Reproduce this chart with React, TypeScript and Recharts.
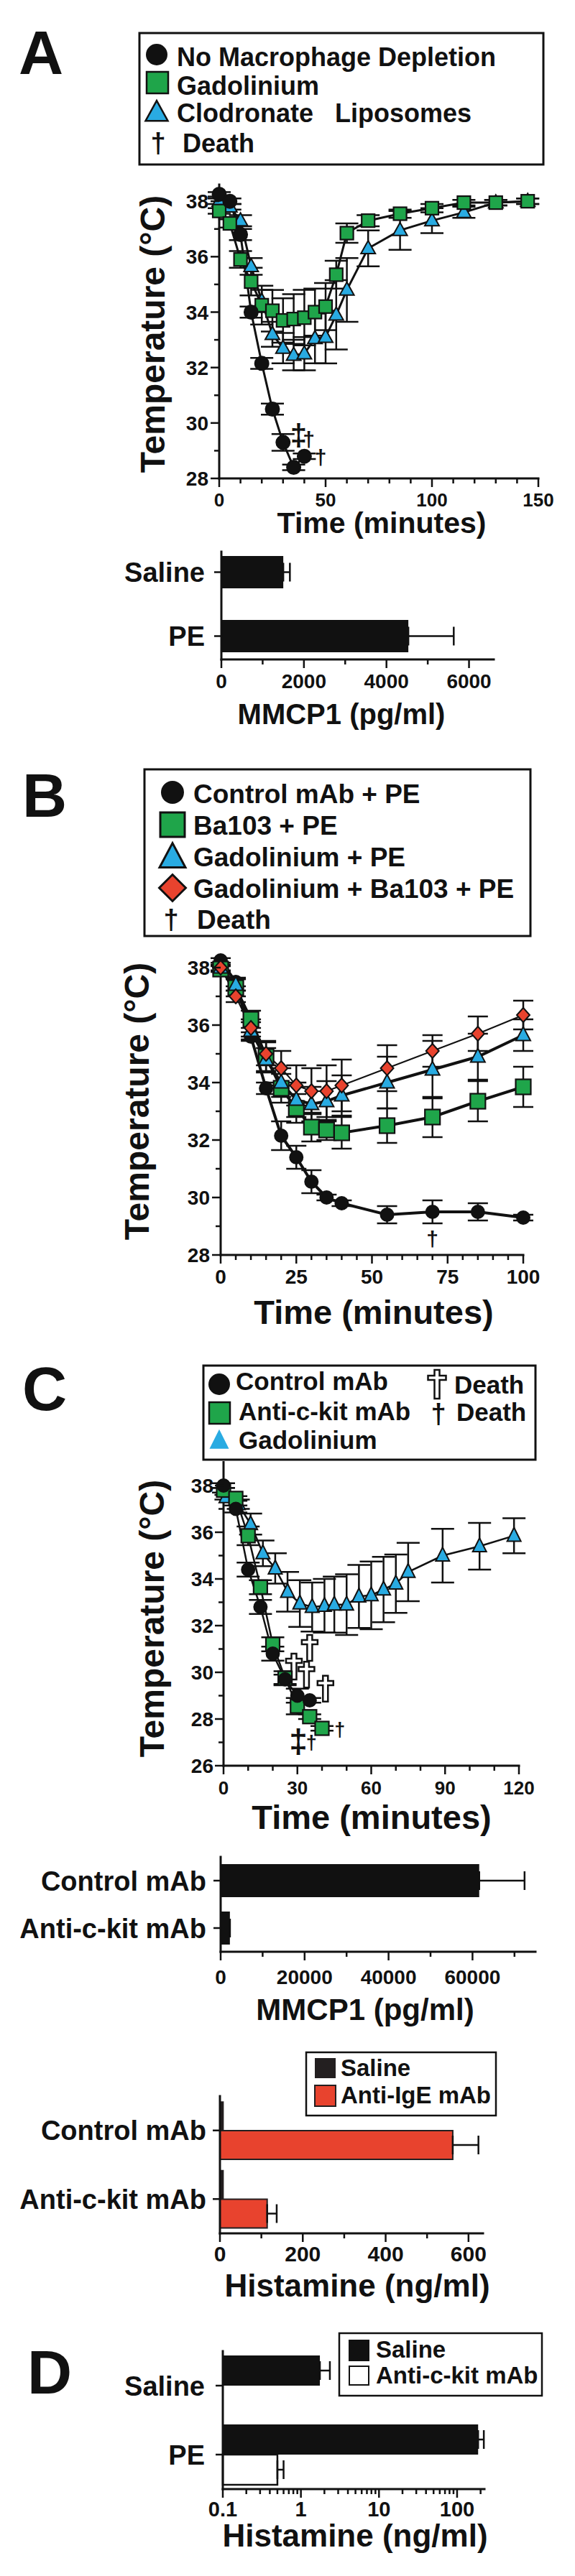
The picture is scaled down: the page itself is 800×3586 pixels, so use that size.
import React from 'react';
import { ComposedChart, BarChart, Bar, Line, Scatter, XAxis, YAxis, ErrorBar, Label } from 'recharts';

const FONT = "'Liberation Sans', Arial, Helvetica, sans-serif";
const INK = '#111';
const GREEN = '#1fa54a';
const CYAN = '#29abe2';
const RED = '#e8432e';

// ---------- Panel A: temperature, macrophage depletion ----------
const aNoDepT = [0, 5, 10, 15, 20, 25, 30, 35, 40];
const aNoDepV = [38.25, 38.0, 36.8, 34.0, 32.15, 30.5, 29.3, 28.4, 28.8];
const aNoDepE = [0.08, 0.1, 0.2, 0.2, 0.2, 0.2, 0.3, 0.1, 0.1];
const aGadT = [0, 5, 10, 15, 20, 25, 30, 35, 40, 45, 50, 55, 60, 70, 85, 100, 115, 130, 145];
const aGadV = [37.65, 37.2, 35.9, 35.1, 34.25, 34.05, 33.7, 33.75, 33.8, 34.0, 34.2, 35.35, 36.85, 37.3, 37.55, 37.75, 37.95, 37.95, 38.0];
const aGadE = [0.1, 0.15, 0.3, 0.5, 0.7, 0.75, 0.8, 0.9, 1.0, 0.85, 0.85, 0.5, 0.35, 0.2, 0.15, 0.15, 0.1, 0.1, 0.1];
const aClodT = [0, 5, 10, 15, 20, 25, 30, 35, 40, 45, 50, 55, 60, 70, 85, 100, 115, 130, 145];
const aClodV = [38.0, 37.8, 37.3, 35.65, 34.4, 33.2, 32.7, 32.45, 32.5, 33.05, 33.1, 33.9, 34.8, 36.3, 36.95, 37.3, 37.6, 37.95, 38.0];
const aClodE = [0.1, 0.1, 0.2, 0.3, 0.4, 0.45, 0.55, 0.55, 0.6, 0.9, 0.95, 1.25, 1.15, 0.65, 0.7, 0.45, 0.2, 0.1, 0.1];
// deaths: '‡' = two animals at the same point
const aDeathT = [37.3, 42.1, 47.7];
const aDeathV = [29.5, 29.35, 28.7];
const aDeathSym = ['‡', '†', '†'];
const aXTicks = [0, 10, 20, 30, 40, 50, 60, 70, 80, 90, 100, 110, 120, 130, 140, 150];
const aXMajor = [0, 50, 100, 150];

// Panel A: MMCP1
const aMmcpNames = ['Saline', 'PE'];
const aMmcpVals = [1500, 4530];
const aMmcpErr = [160, 1100];
const aMmcpTicks = [0, 1000, 2000, 3000, 4000, 5000, 6000];
const aMmcpMajor = [0, 2000, 4000, 6000];

// ---------- Panel B ----------
const bT = [0, 5, 10, 15, 20, 25, 30, 35, 40, 55, 70, 85, 100];
const bCtrlV = [38.25, 37.5, 35.6, 33.8, 32.15, 31.4, 30.55, 30.0, 29.8, 29.4, 29.5, 29.5, 29.3];
const bCtrlE = [0.08, 0.15, 0.15, 0.2, 0.5, 0.4, 0.4, 0.1, 0.1, 0.3, 0.4, 0.3, 0.1];
const bBaV = [37.95, 37.3, 36.2, 34.9, 33.8, 33.1, 32.45, 32.35, 32.25, 32.5, 32.8, 33.35, 33.85];
const bBaE = [0.1, 0.3, 0.3, 0.55, 0.5, 0.5, 0.5, 0.35, 0.55, 0.6, 0.7, 0.7, 0.7];
const bGadV = [38.0, 37.4, 35.8, 34.8, 34.0, 33.4, 33.25, 33.35, 33.55, 34.0, 34.45, 34.9, 35.65];
const bGadE = [0.1, 0.2, 0.3, 0.4, 0.5, 0.6, 0.6, 0.7, 0.7, 0.9, 1.0, 0.8, 0.55];
const bGadBaV = [38.0, 37.0, 35.9, 35.0, 34.5, 33.9, 33.7, 33.7, 33.9, 34.5, 35.1, 35.7, 36.35];
const bGadBaE = [0.1, 0.2, 0.3, 0.4, 0.6, 0.7, 0.8, 0.9, 0.9, 0.8, 0.55, 0.6, 0.5];
const bDeathT = [70];
const bDeathV = [28.5];
const bDeathSym = ['†'];
const bXTicks = [0, 5, 10, 15, 20, 25, 30, 35, 40, 45, 50, 55, 60, 65, 70, 75, 80, 85, 90, 95, 100];
const bXMajor = [0, 25, 50, 75, 100];

// ---------- Panel C ----------
const cCtrlT = [0, 5, 10, 15, 20, 25, 30, 35];
const cCtrlV = [38.0, 37.0, 34.4, 32.8, 30.8, 29.7, 29.0, 28.8];
const cCtrlE = [0.1, 0.15, 0.3, 0.3, 0.3, 0.2, 0.3, 0.1];
const cKitT = [0, 5, 10, 15, 20, 25, 30, 35, 40];
const cKitV = [37.8, 37.45, 35.85, 33.65, 31.2, 29.75, 28.55, 28.1, 27.6];
const cKitE = [0.1, 0.1, 0.4, 0.3, 0.3, 0.3, 0.35, 0.1, 0.1];
const cGadT = [1, 6, 11, 16, 21, 26, 31, 36, 41, 45, 50, 55, 60, 65, 70, 75, 89, 104, 118];
const cGadV = [37.5, 37.2, 36.35, 35.1, 34.45, 33.45, 32.95, 32.8, 32.85, 32.9, 32.9, 33.25, 33.3, 33.55, 33.8, 34.3, 35.0, 35.4, 35.85];
const cGadE = [0.1, 0.2, 0.45, 0.55, 0.65, 0.85, 1.0, 1.05, 1.15, 1.2, 1.3, 1.35, 1.45, 1.4, 1.25, 1.25, 1.15, 1.0, 0.75];
const cDeathT = [30.4, 35.7, 47.2];
const cDeathV = [26.95, 26.95, 27.5];
const cDeathSym = ['‡', '†', '†'];
const cOpenDeathT = [28.6, 35.0, 33.7, 41.4];
const cOpenDeathV = [30.25, 31.05, 29.9, 29.3];
const cXTicks = [0, 10, 20, 30, 40, 50, 60, 70, 80, 90, 100, 110, 120];
const cXMajor = [0, 30, 60, 90, 120];

// Panel C: MMCP1
const cMmcpNames = ['Control mAb', 'Anti-c-kit mAb'];
const cMmcpVals = [61600, 2200];
const cMmcpErr = [10800, 0];
const cMmcpTicks = [0, 10000, 20000, 30000, 40000, 50000, 60000, 70000];
const cMmcpMajor = [0, 20000, 40000, 60000];

// Panel C: histamine
const cHistNames = ['Control mAb', 'Anti-c-kit mAb'];
const cHistSaline = [8, 8];
const cHistIgE = [562, 114];
const cHistIgEErr = [62, 23];
const cHistTicks = [0, 100, 200, 300, 400, 500, 600];
const cHistMajor = [0, 200, 400, 600];

// ---------- Panel D ----------
const dNames = ['Saline', 'PE'];
const dSaline = [1.75, 186];
const dSalineErr = [0.6, 34];
const dKit = [0.1, 0.5];
const dKitErr = [0.04, 0.1];
const dTicks = [0.1, 0.2, 0.3, 0.4, 0.5, 0.6, 0.7, 0.8, 0.9, 1, 2, 3, 4, 5, 6, 7, 8, 9, 10, 20, 30, 40, 50, 60, 70, 80, 90, 100, 200];
const dMajor = [0.1, 1, 10, 100];

const tempTicks = [26, 27, 28, 29, 30, 31, 32, 33, 34, 35, 36, 37, 38];
const tempMajor = [26, 28, 30, 32, 34, 36, 38];

const pts = (t: number[], v: number[], e: number[]) => t.map((x, i) => ({ t: x, T: v[i], e: e[i] }));
const marks = (t: number[], v: number[], s: string[] = []) => t.map((x, i) => ({ t: x, T: v[i], s: s[i] }));

const AX = { stroke: INK, strokeWidth: 3, strokeLinecap: 'square' as const };
const isMajor = (majors: number[], v: number) => majors.some((m) => Math.abs(m - v) < 1e-9);

const xTick = (majors: number[], fs: number, base: number) => (p: any) => {
  const v = p.payload.value;
  const major = isMajor(majors, v);
  return (
    <g>
      <line x1={p.x} y1={p.y} x2={p.x} y2={p.y + (major ? 12 : 7)} stroke={INK} strokeWidth={2.5} />
      {major && (
        <text x={p.x} y={p.y + base} textAnchor="middle" fontSize={fs} fontWeight="bold" fontFamily={FONT} fill={INK}>
          {String(v)}
        </text>
      )}
    </g>
  );
};

const yTick = (majors: number[], fs: number, gap: number) => (p: any) => {
  const v = p.payload.value;
  const major = isMajor(majors, v);
  return (
    <g>
      <line x1={p.x} y1={p.y} x2={p.x - (major ? 12 : 7)} y2={p.y} stroke={INK} strokeWidth={2.5} />
      {major && (
        <text x={p.x - gap} y={p.y + fs * 0.36} textAnchor="end" fontSize={fs} fontWeight="bold" fontFamily={FONT} fill={INK}>
          {String(v)}
        </text>
      )}
    </g>
  );
};

const catTick = (fs: number, gap: number) => (p: any) => (
  <g>
    <line x1={p.x} y1={p.y} x2={p.x - 10} y2={p.y} stroke={INK} strokeWidth={2.5} />
    <text x={p.x - gap} y={p.y + fs * 0.36} textAnchor="end" fontSize={fs} fontWeight="bold" fontFamily={FONT} fill={INK}>
      {p.payload.value}
    </text>
  </g>
);

const xTitle = (text: string, x: number, y: number, fs: number) => () => (
  <text x={x} y={y} textAnchor="middle" fontSize={fs} fontWeight="bold" fontFamily={FONT} fill={INK}>{text}</text>
);
const yTitle = (text: string, x: number, y: number, fs: number) => () => (
  <text x={x} y={y} transform={`rotate(-90, ${x}, ${y})`} textAnchor="middle" fontSize={fs} fontWeight="bold" fontFamily={FONT} fill={INK}>{text}</text>
);

// markers
const circleDot = (r: number) => (p: any) =>
  p.cx == null ? <g key={`n${p.index}`} /> : <circle key={`c${p.index}`} cx={p.cx} cy={p.cy} r={r} fill={INK} stroke={INK} strokeWidth={2} />;
const squareDot = (s: number, fill: string) => (p: any) =>
  p.cx == null ? <g key={`n${p.index}`} /> : <rect key={`s${p.index}`} x={p.cx - s / 2} y={p.cy - s / 2} width={s} height={s} fill={fill} stroke={INK} strokeWidth={2.2} />;
const triPath = (cx: number, cy: number, w: number, h: number) =>
  `M${cx},${cy - h * 0.6}L${cx + w / 2},${cy + h * 0.4}L${cx - w / 2},${cy + h * 0.4}Z`;
const triDot = (w: number, h: number, fill: string) => (p: any) =>
  p.cx == null ? <g key={`n${p.index}`} /> : <path key={`t${p.index}`} d={triPath(p.cx, p.cy, w, h)} fill={fill} stroke={INK} strokeWidth={2} strokeLinejoin="miter" />;
const diaPath = (cx: number, cy: number, w: number, h: number) =>
  `M${cx},${cy - h / 2}L${cx + w / 2},${cy}L${cx},${cy + h / 2}L${cx - w / 2},${cy}Z`;
const diaDot = (w: number, h: number, fill: string) => (p: any) =>
  p.cx == null ? <g key={`n${p.index}`} /> : <path key={`d${p.index}`} d={diaPath(p.cx, p.cy, w, h)} fill={fill} stroke={INK} strokeWidth={2} />;

const dagger = (fs: number, fsDouble: number) => (p: any) => {
  const sym = (p.payload && p.payload.s) || '†';
  const size = sym === '‡' ? fsDouble : fs;
  return (
    <text x={p.cx} y={p.cy + size * 0.28} textAnchor="middle" fontSize={size} fontWeight="bold" fontFamily={FONT} fill={INK}>{sym}</text>
  );
};
const crossPath = (cx: number, cy: number, h: number, w: number) => {
  const bw = 7, ct = 6;
  const x0 = cx - bw / 2, x1 = cx + bw / 2, top = cy - h / 2, bot = cy + h / 2;
  const c0 = top + h * 0.2, c1 = c0 + ct, l = cx - w / 2, r = cx + w / 2;
  return `M${x0},${top}L${x1},${top}L${x1},${c0}L${r},${c0}L${r},${c1}L${x1},${c1}L${x1},${bot}L${x0},${bot}L${x0},${c1}L${l},${c1}L${l},${c0}L${x0},${c0}Z`;
};
const openCross = (p: any) => <path d={crossPath(p.cx, p.cy, 36, 22)} fill="#fff" stroke={INK} strokeWidth={2.5} />;

const lineProps = { type: 'linear' as const, dataKey: 'T', activeDot: false, isAnimationActive: false, stroke: INK };

function PanelA() {
  const mmcp = aMmcpNames.map((n, i) => ({ name: n, v: aMmcpVals[i], err: [0, aMmcpErr[i]] }));
  return (
    <>
      <div style={{ position: 'absolute', left: 0, top: 0 }}>
        <ComposedChart width={800} height={780} margin={{ top: 257, right: 51, bottom: 0, left: 0 }}>
          <XAxis type="number" dataKey="t" domain={[0, 150]} ticks={aXTicks} interval={0} height={114} tickSize={0} tickMargin={0} tickLine={false} axisLine={AX} tick={xTick(aXMajor, 26, 39)}>
            <Label content={xTitle('Time (minutes)', 531, 742, 41)} />
          </XAxis>
          <YAxis type="number" domain={[28, 38.6]} ticks={tempTicks.slice(2)} interval={0} width={305} tickSize={0} tickMargin={0} tickLine={false} axisLine={AX} tick={yTick(tempMajor, 28, 15)}>
            <Label content={yTitle('Temperature (°C)', 229, 465, 48)} />
          </YAxis>
          <Line {...lineProps} data={pts(aClodT, aClodV, aClodE)} strokeWidth={3} dot={triDot(20, 18, CYAN)}>
            <ErrorBar dataKey="e" direction="y" width={16} stroke={INK} strokeWidth={2.5} />
          </Line>
          <Line {...lineProps} data={pts(aGadT, aGadV, aGadE)} strokeWidth={3} dot={squareDot(18, GREEN)}>
            <ErrorBar dataKey="e" direction="y" width={16} stroke={INK} strokeWidth={2.5} />
          </Line>
          <Line {...lineProps} data={pts(aNoDepT, aNoDepV, aNoDepE)} strokeWidth={3} dot={circleDot(9.5)}>
            <ErrorBar dataKey="e" direction="y" width={16} stroke={INK} strokeWidth={2.5} />
          </Line>
          <Scatter data={marks(aDeathT, aDeathV, aDeathSym)} dataKey="T" shape={dagger(30, 42)} isAnimationActive={false} />
        </ComposedChart>
      </div>
      <div style={{ position: 'absolute', left: 0, top: 740 }}>
        <BarChart layout="vertical" width={800} height={300} data={mmcp} margin={{ top: 28, right: 113, bottom: 0, left: 0 }}>
          <XAxis type="number" domain={[0, 6600]} ticks={aMmcpTicks} interval={0} height={122} tickSize={0} tickMargin={0} tickLine={false} axisLine={AX} tick={xTick(aMmcpMajor, 28, 40)}>
            <Label content={xTitle('MMCP1 (pg/ml)', 475, 268, 40)} />
          </XAxis>
          <YAxis type="category" dataKey="name" width={308} padding={{ top: -16, bottom: -12 }} tickSize={0} tickMargin={0} tickLine={false} axisLine={AX} tick={catTick(38, 23)} />
          <Bar dataKey="v" fill={INK} barSize={45} isAnimationActive={false}>
            <ErrorBar dataKey="err" direction="x" width={13} stroke={INK} strokeWidth={2.5} />
          </Bar>
        </BarChart>
      </div>
    </>
  );
}

function PanelB() {
  return (
    <div style={{ position: 'absolute', left: 0, top: 1050 }}>
      <ComposedChart width={800} height={820} margin={{ top: 283, right: 72, bottom: 0, left: 0 }}>
        <XAxis type="number" dataKey="t" domain={[0, 100]} ticks={bXTicks} interval={0} height={123} tickSize={0} tickMargin={0} tickLine={false} axisLine={AX} tick={xTick(bXMajor, 28, 40)}>
          <Label content={xTitle('Time (minutes)', 520, 793, 47)} />
        </XAxis>
        <YAxis type="number" domain={[28, 38.35]} ticks={tempTicks.slice(2)} interval={0} width={307} tickSize={0} tickMargin={0} tickLine={false} axisLine={AX} tick={yTick(tempMajor, 28, 15)}>
          <Label content={yTitle('Temperature (°C)', 207, 483, 48)} />
        </YAxis>
        <Line {...lineProps} data={pts(bT, bCtrlV, bCtrlE)} strokeWidth={4} dot={circleDot(9)}>
          <ErrorBar dataKey="e" direction="y" width={14} stroke={INK} strokeWidth={2.5} />
        </Line>
        <Line {...lineProps} data={pts(bT, bBaV, bBaE)} strokeWidth={4} dot={squareDot(21, GREEN)}>
          <ErrorBar dataKey="e" direction="y" width={14} stroke={INK} strokeWidth={2.5} />
        </Line>
        <Line {...lineProps} data={pts(bT, bGadV, bGadE)} strokeWidth={4} dot={triDot(20, 19, CYAN)}>
          <ErrorBar dataKey="e" direction="y" width={14} stroke={INK} strokeWidth={2.5} />
        </Line>
        <Line {...lineProps} data={pts(bT, bGadBaV, bGadBaE)} strokeWidth={2} dot={diaDot(18, 20, RED)}>
          <ErrorBar dataKey="e" direction="y" width={14} stroke={INK} strokeWidth={2.5} />
        </Line>
        <Scatter data={marks(bDeathT, bDeathV, bDeathSym)} dataKey="T" shape={dagger(30, 42)} isAnimationActive={false} />
      </ComposedChart>
    </div>
  );
}

function PanelC() {
  const mmcp = cMmcpNames.map((n, i) => ({ name: n, v: cMmcpVals[i], err: [0, cMmcpErr[i]] }));
  const hist = cHistNames.map((n, i) => ({ name: n, saline: cHistSaline[i], ige: cHistIgE[i], err: [0, cHistIgEErr[i]] }));
  return (
    <>
      <div style={{ position: 'absolute', left: 0, top: 1880 }}>
        <ComposedChart width={800} height={700} margin={{ top: 155.5, right: 78, bottom: 0, left: 0 }}>
          <XAxis type="number" dataKey="t" domain={[0, 120]} ticks={cXTicks} interval={0} height={122} tickSize={0} tickMargin={0} tickLine={false} axisLine={AX} tick={xTick(cXMajor, 26, 40)}>
            <Label content={xTitle('Time (minutes)', 517, 666, 47)} />
          </XAxis>
          <YAxis type="number" domain={[26, 39]} ticks={tempTicks} interval={0} width={311} tickSize={0} tickMargin={0} tickLine={false} axisLine={AX} tick={yTick(tempMajor, 28, 14)}>
            <Label content={yTitle('Temperature (°C)', 228, 373, 48)} />
          </YAxis>
          <Line {...lineProps} data={pts(cGadT, cGadV, cGadE)} strokeWidth={2.5} dot={triDot(19, 19, CYAN)}>
            <ErrorBar dataKey="e" direction="y" width={16} stroke={INK} strokeWidth={2.5} />
          </Line>
          <Line {...lineProps} data={pts(cKitT, cKitV, cKitE)} strokeWidth={2.5} dot={squareDot(19, GREEN)}>
            <ErrorBar dataKey="e" direction="y" width={16} stroke={INK} strokeWidth={2.5} />
          </Line>
          <Line {...lineProps} data={pts(cCtrlT, cCtrlV, cCtrlE)} strokeWidth={2.5} dot={circleDot(9)}>
            <ErrorBar dataKey="e" direction="y" width={16} stroke={INK} strokeWidth={2.5} />
          </Line>
          <Scatter data={marks(cOpenDeathT, cOpenDeathV)} dataKey="T" shape={openCross} isAnimationActive={false} />
          <Scatter data={marks(cDeathT, cDeathV, cDeathSym)} dataKey="T" shape={dagger(27, 46)} isAnimationActive={false} />
        </ComposedChart>
      </div>
      <div style={{ position: 'absolute', left: 0, top: 2560 }}>
        <BarChart layout="vertical" width={800} height={290} data={mmcp} margin={{ top: 25, right: 55, bottom: 0, left: 0 }}>
          <XAxis type="number" domain={[0, 75000]} ticks={cMmcpTicks} interval={0} height={133} tickSize={0} tickMargin={0} tickLine={false} axisLine={AX} tick={xTick(cMmcpMajor, 28, 45)}>
            <Label content={xTitle('MMCP1 (pg/ml)', 508, 252, 42)} />
          </XAxis>
          <YAxis type="category" dataKey="name" width={307} tickSize={0} tickMargin={0} tickLine={false} axisLine={AX} tick={catTick(38, 20)} />
          <Bar dataKey="v" fill={INK} barSize={46} isAnimationActive={false}>
            <ErrorBar dataKey="err" direction="x" width={13} stroke={INK} strokeWidth={2.5} />
          </Bar>
        </BarChart>
      </div>
      <div style={{ position: 'absolute', left: 0, top: 2840 }}>
        <BarChart layout="vertical" width={800} height={390} data={hist} barGap={0} margin={{ top: 78, right: 128, bottom: 0, left: 0 }}>
          <XAxis type="number" domain={[0, 635]} ticks={cHistTicks} interval={0} height={121} tickSize={0} tickMargin={0} tickLine={false} axisLine={AX} tick={xTick(cHistMajor, 30, 39)}>
            <Label content={xTitle('Histamine (ng/ml)', 497, 357, 44)} />
          </XAxis>
          <YAxis type="category" dataKey="name" width={306} tickSize={0} tickMargin={0} tickLine={false} axisLine={AX} tick={catTick(38, 19)} />
          <Bar dataKey="saline" fill="#231f20" stroke="#231f20" strokeWidth={1.5} barSize={40} isAnimationActive={false} />
          <Bar dataKey="ige" fill={RED} stroke="#231f20" strokeWidth={2} barSize={40} isAnimationActive={false}>
            <ErrorBar dataKey="err" direction="x" width={13} stroke={INK} strokeWidth={2.5} />
          </Bar>
        </BarChart>
      </div>
    </>
  );
}

function PanelD() {
  const rows = dNames.map((n, i) => ({ name: n, saline: dSaline[i], sErr: [0, dSalineErr[i]], kit: dKit[i], kErr: [0, dKitErr[i]] }));
  return (
    <div style={{ position: 'absolute', left: 0, top: 3230 }}>
      <BarChart layout="vertical" width={800} height={356} data={rows} barGap={0} margin={{ top: 43, right: 126, bottom: 0, left: 0 }}>
        <XAxis type="number" scale="log" domain={[0.1, 224]} ticks={dTicks} interval={0} height={121} tickSize={0} tickMargin={0} tickLine={false} axisLine={AX} tick={xTick(dMajor, 29, 38)}>
          <Label content={xTitle('Histamine (ng/ml)', 494, 315, 44)} />
        </XAxis>
        <YAxis type="category" dataKey="name" width={310} tickSize={0} tickMargin={0} tickLine={false} axisLine={AX} tick={catTick(38, 25)} />
        <Bar dataKey="saline" fill={INK} barSize={42} isAnimationActive={false}>
          <ErrorBar dataKey="sErr" direction="x" width={13} stroke={INK} strokeWidth={2.5} />
        </Bar>
        <Bar dataKey="kit" fill="#fff" stroke={INK} strokeWidth={2.5} barSize={42} isAnimationActive={false}>
          <ErrorBar dataKey="kErr" direction="x" width={13} stroke={INK} strokeWidth={2.5} />
        </Bar>
      </BarChart>
    </div>
  );
}

const T = (props: any) => <text fontWeight="bold" fontFamily={FONT} fill={INK} {...props} />;

function Overlay() {
  return (
    <svg width={800} height={3586} style={{ position: 'absolute', left: 0, top: 0, pointerEvents: 'none' }}>
      <T x={26} y={103} fontSize={86}>A</T>
      <T x={31} y={1137} fontSize={86}>B</T>
      <T x={31} y={1963} fontSize={86}>C</T>
      <T x={38} y={3332} fontSize={86}>D</T>

      {/* legend A */}
      <rect x={194} y={46} width={562} height={183} fill="#fff" stroke={INK} strokeWidth={3} />
      <circle cx={218} cy={76} r={15} fill={INK} />
      <rect x={204} y={100} width={30} height={30} fill={GREEN} stroke={INK} strokeWidth={2.5} />
      <path d={triPath(218, 157, 31, 28)} fill={CYAN} stroke={INK} strokeWidth={2.5} />
      <T x={220} y={212} fontSize={38} textAnchor="middle">†</T>
      <T x={246} y={92} fontSize={36}>No Macrophage Depletion</T>
      <T x={246} y={132} fontSize={36}>Gadolinium</T>
      <T x={246} y={170} fontSize={36} style={{ whiteSpace: 'pre' }}>{'Clodronate   Liposomes'}</T>
      <T x={254} y={212} fontSize={36}>Death</T>

      {/* legend B */}
      <rect x={201} y={1071} width={537} height={232} fill="#fff" stroke={INK} strokeWidth={3} />
      <circle cx={240} cy={1103} r={16} fill={INK} />
      <rect x={223} y={1131} width={34} height={34} fill={GREEN} stroke={INK} strokeWidth={3} />
      <path d={triPath(240, 1194, 36, 34)} fill={CYAN} stroke={INK} strokeWidth={3} />
      <path d={diaPath(240, 1236, 37, 37)} fill={RED} stroke={INK} strokeWidth={3} />
      <T x={238} y={1293} fontSize={38} textAnchor="middle">†</T>
      <T x={269} y={1118} fontSize={37}>Control mAb + PE</T>
      <T x={269} y={1162} fontSize={37}>Ba103 + PE</T>
      <T x={269} y={1206} fontSize={37}>Gadolinium + PE</T>
      <T x={269} y={1250} fontSize={37}>Gadolinium + Ba103 + PE</T>
      <T x={274} y={1293} fontSize={37}>Death</T>

      {/* legend C */}
      <rect x={283} y={1901} width={462} height={131} fill="#fff" stroke={INK} strokeWidth={3} />
      <circle cx={305} cy={1927} r={15} fill={INK} />
      <rect x={291} y={1952} width={29} height={30} fill={GREEN} stroke={INK} strokeWidth={2.5} />
      <path d={triPath(305, 2006, 27, 27)} fill={CYAN} />
      <T x={328} y={1935} fontSize={35}>Control mAb</T>
      <T x={332} y={1977} fontSize={35}>Anti-c-kit mAb</T>
      <T x={332} y={2017} fontSize={35}>Gadolinium</T>
      <path d={crossPath(608, 1927, 40, 25)} fill="#fff" stroke={INK} strokeWidth={2.5} />
      <T x={632} y={1940} fontSize={35}>Death</T>
      <T x={610} y={1981} fontSize={38} textAnchor="middle">†</T>
      <T x={635} y={1978} fontSize={35}>Death</T>

      {/* legend histamine C */}
      <rect x={426} y={2857} width={264} height={88} fill="#fff" stroke={INK} strokeWidth={2.5} />
      <rect x={438} y={2865} width={29} height={28} fill="#231f20" />
      <rect x={438} y={2903} width={29} height={29} fill={RED} stroke="#231f20" strokeWidth={2} />
      <T x={474} y={2890} fontSize={33}>Saline</T>
      <T x={474} y={2928} fontSize={33}>Anti-IgE mAb</T>

      {/* legend D */}
      <rect x={472} y={3248} width={282} height={87} fill="#fff" stroke={INK} strokeWidth={2.5} />
      <rect x={485} y={3257} width={29} height={30} fill={INK} />
      <rect x={486} y={3294} width={27} height={26} fill="#fff" stroke={INK} strokeWidth={2} />
      <T x={523} y={3282} fontSize={33}>Saline</T>
      <T x={523} y={3318} fontSize={33}>Anti-c-kit mAb</T>
    </svg>
  );
}

export default function App() {
  return (
    <div style={{ position: 'absolute', left: 0, top: 0, width: 800, height: 3586, background: '#fff' }}>
      <PanelA />
      <PanelB />
      <PanelC />
      <PanelD />
      <Overlay />
    </div>
  );
}
